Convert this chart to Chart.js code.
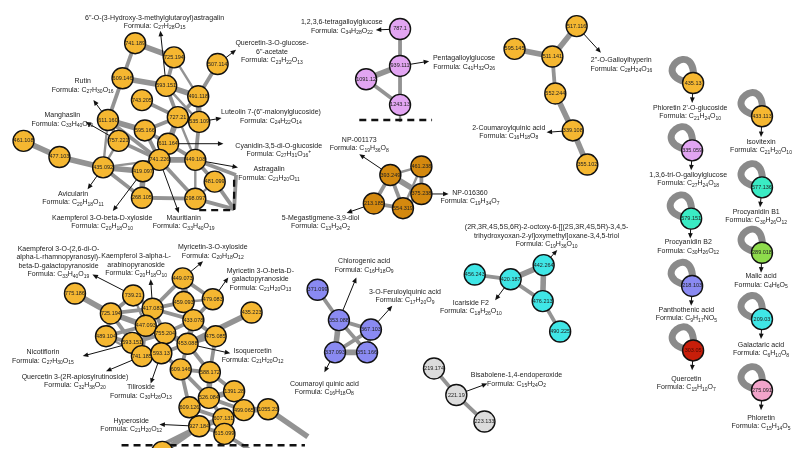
<!DOCTYPE html>
<html><head><meta charset="utf-8">
<script src="https://cdn.jsdelivr.net/npm/chart.js@4/dist/chart.umd.min.js"></script>
<style>html,body{margin:0;padding:0;background:#fff;overflow:hidden}canvas{display:block}</style>
</head><body>
<canvas id="c" width="803" height="460"></canvas>
<script>
// ---------- DATA ----------
// node m/z labels
const nodeLabels = [
 '741.189','725.194','507.114','609.146','593.151','491.118','743.205','611.160','727.21','535.109',
 '595.166','461.108','757.221','611.164','477.103','741.226','449.108','435.092','419.097','481.099',
 '268.105','298.097',
 '775.186','739.21','449.073','479.083','435.223','725.194','417.083','459.093','447.093','433.078',
 '489.104','755.204','475.085','593.151','453.088','741.185','593.13','609.146','588.172','1391.28',
 '526.084','609.126','499.065','1055.23','607.131','927.184','615.099','',
 '787.1','939.111','1091.12','1243.13',
 '517.116','595.145','511.141','552.244','339.108','355.102',
 '393.249','461.238','375.238','213.185','554.319',
 '371.099','353.088','367.103','337.093','351.166',
 '219.174','221.19','223.133',
 '456.243','420.187','442.264','476.213','490.225',
 '435.13','433.113','335.059','577.136','579.151','289.018','218.103','209.03','303.05','275.091',
 '','','','','',''
];
// molecular family of each node
const nodeGroups = [
 'O','O','O','O','O','O','O','O','O','O','O','O','O','O','O','O','O','O','O','O','O','O',
 'O','O','O','O','O','O','O','O','O','O','O','O','O','O','O','O','O','O','O','O','O','O','O','O','O','O','O','O',
 'P','P','P','P',
 'O','O','O','O','O','O',
 'B','B','B','B','B',
 'V','V','V','V','V',
 'G','G','G',
 'C','C','C','C','C',
 'O','O','P','A','A','L','V','C','R','K',
 'X','X','X','X','X','X'
];
// layout coordinates of the network (x, y)
const nodeX = [127,167,212,114,159,192,134,99,171,193,137,12,110,161,49,152,189,94,135,209,134,189,
 65,125,176,207,247,102,145,177,138,187,97,158,210,124,181,134,154,174,204,229,203,183,239,264,218,193,219,155,
 400,400,365,400,
 582,518,557,560,578,593,
 390,422,422,373,403,
 315,337,370,333,366,
 435,458,487,
 477,514,548,547,565,
 702,773,701,773,700,773,701,773,702,773,
 231,229,400,305,128,258];
const nodeY = [33,48,55,70,78,89,93,114,111,116,125,136,136,139,153,156,156,164,168,179,196,197,
 297,299,281,303,317,318,313,306,331,325,342,339,342,349,350,363,360,377,380,400,407,417,420,419,429,437,445,464,
 18,57,71,98,
 15,39,47,86,125,161,
 172,163,192,202,207,
 293,325,335,359,359,
 376,404,432,
 277,282,267,305,337,
 75,110,146,185,218,254,289,324,357,399,
 172,208,116,448,470,470];
// edges: [from, to, strength 1..3]
const edges = [
 [0,1,3],[0,3,2],[1,4,2],[1,5,1],[3,4,3],[3,7,2],[4,5,3],[4,8,2],[4,9,1],[2,5,2],[5,9,3],[5,8,2],[6,8,2],
 [7,10,3],[7,12,2],[7,17,1],[7,15,2],[10,8,2],[10,15,2],[10,13,2],[8,13,3],[8,16,1],[9,16,2],[9,8,1],
 [13,15,3],[13,16,2],[12,15,2],[12,17,1],[11,14,3],[14,17,3],[17,18,3],[17,20,2],[17,15,1],[18,15,3],
 [18,20,3],[15,16,3],[15,21,2],[20,21,2],[16,19,2],[16,21,1],[21,19,1],[16,88,2],[88,89,2],[19,89,2],[21,89,2],
 [22,27,3],[27,23,2],[27,28,2],[27,30,3],[27,35,2],[27,32,2],[23,28,2],[28,29,2],[28,30,3],[28,33,2],
 [28,31,2],[28,24,2],[24,29,2],[24,25,2],[24,31,2],[29,31,2],[29,25,1],[25,31,2],[26,36,3],[31,36,3],
 [31,34,2],[31,33,2],[30,33,3],[30,35,3],[30,32,2],[30,36,2],[33,36,3],[33,38,2],[35,37,3],[35,32,2],
 [37,38,3],[38,36,2],[38,39,2],[36,39,2],[36,40,2],[36,34,2],[34,40,2],[39,40,2],[39,42,2],[39,43,2],
 [40,42,3],[40,41,2],[42,41,3],[42,43,2],[42,46,2],[42,44,2],[43,47,2],[43,46,2],[41,44,2],[44,45,3],
 [44,46,2],[45,91,3],[46,47,3],[46,48,2],[47,48,2],[47,49,3],[47,92,2],[48,93,2],[30,37,2],[32,37,1],
 [28,35,1],[33,35,2],[27,33,1],[23,30,1],
 [50,51,2],[51,52,3],[51,53,2],[52,53,2],[53,90,1],
 [54,56,3],[55,56,3],[56,57,2],[57,58,3],[58,59,3],
 [60,61,1],[60,62,3],[60,64,2],[60,63,2],[61,62,2],[62,64,2],[63,64,2],[61,64,1],
 [65,66,2],[66,67,2],[66,68,3],[66,69,2],[68,69,3],[68,67,2],[67,69,2],
 [70,71,2],[71,72,2],
 [73,74,2],[74,75,3],[74,76,2],[75,76,3],[76,77,2]
];
// nodes with a self-loop
const loopNodes = [78,79,80,81,82,83,84,85,86,87];
// annotations
const annNode = [4,2,7,12,9,13,16,17,18,15,50,51,54,58,60,62,63,75,74,66,67,68,71,23,28,24,25,35,37,38,36,47,
 78,79,80,81,82,83,84,85,86,87];
const annName = [
 ['6"-O-(3-Hydroxy-3-methylglutaroyl)astragalin'],['Quercetin-3-O-glucose-','6"-acetate'],['Rutin'],['Manghaslin'],
 ['Luteolin 7-(6"-malonylglucoside)'],['Cyanidin-3,5-di-O-glucoside'],['Astragalin'],['Avicularin'],
 ['Kaempferol 3-O-beta-D-xyloside'],['Mauritianin'],['1,2,3,6-tetragalloylglucose'],['Pentagalloylglucose'],
 ['2"-O-Galloylhyperin'],['2-Coumaroylquinic acid'],['NP-001173'],['NP-016360'],['5-Megastigmene-3,9-diol'],
 ['(2R,3R,4S,5S,6R)-2-octoxy-6-[[(2S,3R,4S,5R)-3,4,5-','trihydroxyoxan-2-yl]oxymethyl]oxane-3,4,5-triol'],
 ['Icariside F2'],['Chlorogenic acid'],['3-O-Feruloylquinic acid'],['Coumaroyl quinic acid'],['Bisabolene-1,4-endoperoxide'],
 ['Kaempferol 3-O-(2,6-di-O-','alpha-L-rhamnopyranosyl)-','beta-D-galactopyranoside'],
 ['Kaempferol 3-alpha-L-','arabinopyranoside'],['Myricetin-3-O-xyloside'],['Myricetin 3-O-beta-D-','galactopyranoside'],
 ['Nicotiflorin'],['Quercetin 3-(2R-apiosylrutinoside)'],['Tiliroside'],['Isoquercetin'],['Hyperoside'],
 ["Phloretin 2'-O-glucoside"],['Isovitexin'],['1,3,6-tri-O-galloylglucose'],['Procyanidin B1'],['Procyanidin B2'],
 ['Malic acid'],['Panthothenic acid'],['Galactaric acid'],['Quercetin'],['Phloretin']
];
const annFormula = ['C27H28O15','C23H22O13','C27H30O16','C33H40O20','C24H22O14','C27H31O16+','C21H20O11','C20H18O11',
 'C20H18O10','C33H40O19','C34H28O22','C41H32O26','C28H24O16','C16H18O8','C19H36O8','C19H34O7','C13H24O2','C19H36O10',
 'C18H26O10','C16H18O9','C17H20O9','C16H18O8','C15H24O2','C33H40O19','C20H18O10','C20H18O12','C21H20O13','C27H30O15',
 'C32H38O20','C30H26O13','C21H20O12','C21H20O12',
 'C21H24O10','C21H20O10','C27H24O18','C30H26O12','C30H26O12','C4H6O5','C9H17NO5','C6H10O8','C15H10O7','C15H14O5'];
// label placement (layout coordinates)
const annTextX = [147,268,73,52,267,275,265,63,93,177,340,466,628,512,358,472,318,551,473,363,405,322,520,48,128,207,256,32,65,133,248,123,
 699,772,697,767,697,772,695,772,695,772];
const annTextY = [6,33,73,109,106,141,166,192,217,217,11,49,51,122,135,191,217,227,307,263,295,392,383,250,258,248,273,359,385,396,358,431,
 101,137,172,211,243,279,314,351,387,428];
const annTipX = [153,231,84,76,216,218,233,78,104,172,375,430,607,551,358,450,345,562,498,355,392,322,490,83,143,197,223,73,97,143,225,152,
 701,772,700,771,699,772,700,772,701,772];
const annTipY = [20,40,93,116,112,139,164,187,210,212,19,52,43,127,150,192,212,251,304,280,310,380,392,277,282,263,280,363,379,392,360,435,
 96,132,167,206,239,275,310,345,378,420];
// cut markers (dashed)
const cutLines = [[193,209,229,209],[229,177,229,209],[358,114,433,114],[113,457,302,457]];

// ---------- STYLE ----------
const groupColor = {O:'#F5B731',P:'#E2A5F2',B:'#D4890F',V:'#8A8AF2',G:'#DCDCDC',C:'#3FE6E6',A:'#3AEBC4',L:'#8EDB4C',R:'#C81E0A',K:'#F2A4CA',X:'rgba(0,0,0,0)'};
const edgeWidth = {1:2.4,2:3.8,3:5.6};
const FAM = '"Liberation Sans", Arial, sans-serif';
const R = 10.5;

const datasets = [];
datasets.push({
  type:'scatter', order:0,
  data: nodeX.map((x,i)=>({x, y:nodeY[i]})),
  pointRadius: nodeGroups.map(g=>g==='X'?0:R),
  backgroundColor: nodeGroups.map(g=>groupColor[g]),
  borderColor: nodeGroups.map(g=>g==='X'?'rgba(0,0,0,0)':'#111'),
  borderWidth: 1.4
});
edges.forEach(([a,b,w])=>{
  datasets.push({type:'line', order:3, data:[{x:nodeX[a],y:nodeY[a]},{x:nodeX[b],y:nodeY[b]}],
    borderColor:'#939393', borderWidth:edgeWidth[w], pointRadius:0, fill:false, tension:0});
});
cutLines.forEach(([x1,y1,x2,y2])=>{
  datasets.push({type:'line', order:1, data:[{x:x1,y:y1},{x:x2,y:y2}],
    borderColor:'#111', borderWidth:2.3, borderDash:[7,5], pointRadius:0, fill:false});
});

function segs(formula){
  const out=[{t:'Formula: ',k:0}];
  for(const ch of formula){
    const k=/[0-9]/.test(ch)?1:(ch==='+'?2:0);
    const last=out[out.length-1];
    if(last.k===k) last.t+=ch; else out.push({t:ch,k});
  }
  return out;
}
function drawFormula(ctx,f,cx,cy){
  const s=segs(f); let w=0;
  s.forEach(p=>{ctx.font=(p.k?'5px ':'7px ')+FAM; p.w=ctx.measureText(p.t).width; w+=p.w;});
  let x=cx-w/2; ctx.textAlign='left';
  s.forEach(p=>{ctx.font=(p.k?'5px ':'7px ')+FAM; ctx.fillText(p.t,x,cy+(p.k===1?2:(p.k===2?-2:0))); x+=p.w;});
}
function arrow(ctx,x0,y0,x1,y1){
  const a=Math.atan2(y1-y0,x1-x0), L=5.5, W=2.4;
  ctx.beginPath(); ctx.moveTo(x0,y0); ctx.lineTo(x1-Math.cos(a)*L*0.7,y1-Math.sin(a)*L*0.7); ctx.stroke();
  ctx.beginPath(); ctx.moveTo(x1,y1);
  ctx.lineTo(x1-L*Math.cos(a)+W*Math.sin(a),y1-L*Math.sin(a)-W*Math.cos(a));
  ctx.lineTo(x1-L*Math.cos(a)-W*Math.sin(a),y1-L*Math.sin(a)+W*Math.cos(a));
  ctx.closePath(); ctx.fill();
}

const netPlugin = {
  id:'net',
  beforeDatasetsDraw(chart){
    const ctx=chart.ctx, sx=chart.scales.x, sy=chart.scales.y;
    ctx.save(); ctx.strokeStyle='#8a8a8a'; ctx.lineWidth=7; ctx.lineCap='round';
    loopNodes.forEach(i=>{
      const px=sx.getPixelForValue(nodeX[i]), py=sy.getPixelForValue(nodeY[i]);
      ctx.beginPath(); ctx.moveTo(px,py);
      ctx.bezierCurveTo(px+6,py-50,px-50,py-6,px,py); ctx.stroke();
    });
    ctx.restore();
  },
  afterDatasetsDraw(chart){
    const ctx=chart.ctx, sx=chart.scales.x, sy=chart.scales.y;
    ctx.save();
    ctx.textBaseline='middle'; ctx.textAlign='center';
    ctx.font='5.5px '+FAM;
    nodeLabels.forEach((t,i)=>{
      if(!t) return;
      ctx.fillStyle = nodeGroups[i]==='R' ? '#4a0800' : '#222';
      ctx.fillText(t, sx.getPixelForValue(nodeX[i]), sy.getPixelForValue(nodeY[i]));
    });
    ctx.fillStyle='#111'; ctx.strokeStyle='#111'; ctx.lineWidth=1;
    annNode.forEach((n,k)=>{
      const px=sx.getPixelForValue(nodeX[n]), py=sy.getPixelForValue(nodeY[n]);
      const tx=sx.getPixelForValue(annTipX[k]), ty=sy.getPixelForValue(annTipY[k]);
      const d=Math.hypot(tx-px,ty-py)||1;
      arrow(ctx, px+(tx-px)/d*R, py+(ty-py)/d*R, tx, ty);
    });
    ctx.fillStyle='#222';
    annNode.forEach((n,k)=>{
      const cx=sx.getPixelForValue(annTextX[k]); let cy=sy.getPixelForValue(annTextY[k]);
      annName[k].forEach(line=>{ctx.textAlign='center'; ctx.font='7px '+FAM; ctx.fillText(line,cx,cy); cy+=8.5;});
      drawFormula(ctx, annFormula[k], cx, cy);
    });
    ctx.restore();
  }
};

new Chart(document.getElementById('c'), {
  data:{datasets},
  options:{
    responsive:false, animation:false, events:[],
    layout:{padding:0},
    scales:{
      x:{type:'linear',min:0,max:803,display:false},
      y:{type:'linear',min:0,max:460,reverse:true,display:false}
    },
    plugins:{legend:{display:false},tooltip:{enabled:false}}
  },
  plugins:[netPlugin]
});
</script>
</body></html>
